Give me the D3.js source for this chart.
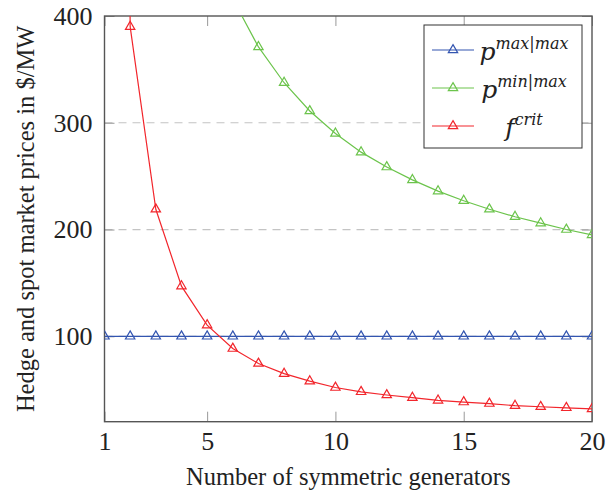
<!DOCTYPE html>
<html><head><meta charset="utf-8">
<script src="https://cdn.jsdelivr.net/npm/d3@7"></script>
<style>
body{margin:0;background:#fff;}
text{font-family:"Liberation Serif","Times New Roman",serif;fill:#222;}
</style></head>
<body><svg id="c" width="608" height="493"></svg>
<script>
const generators = [1,2,3,4,5,6,7,8,9,10,11,12,13,14,15,16,17,18,19,20];
const pMaxMax = [100,100,100,100,100,100,100,100,100,100,100,100,100,100,100,100,100,100,100,100];
const pMinMaxX = [6,7,8,9,10,11,12,13,14,15,16,17,18,19,20];
const pMinMax = [416,371,337.5,311,290,272.5,258.5,246.5,236,227,219,212,206,200,195];
const fCrit = [4000,390,219,147,110.5,88.5,74.5,65,58,52,48,45,42.5,40,38.4,37,35,34,33,32];
const xTicks = [1,5,10,15,20];
const yTicks = [100,200,300,400];

const svg = d3.select("#c");
const L=104.5, R=592, T=16, B=421.7;
const x = d3.scaleLinear().domain([1,20]).range([L,R]);
const y = d3.scaleLinear().domain([20,400]).range([B,T]);

svg.append("defs").append("clipPath").attr("id","clip")
  .append("rect").attr("x",L).attr("y",T).attr("width",R-L).attr("height",B-T);

// grid
const g = svg.append("g");
g.selectAll(".grid").data(yTicks.filter(d=>d<400)).enter().append("line")
  .attr("x1",L).attr("x2",R).attr("y1",d=>y(d)).attr("y2",d=>y(d))
  .attr("stroke","#c4c4c4").attr("stroke-width",1.2).attr("stroke-dasharray","8,6");

// axes (inward ticks)
const axB = d3.axisBottom(x).tickValues(xTicks).tickSize(-10).tickPadding(10);
const axT = d3.axisTop(x).tickValues(xTicks).tickSize(-10).tickFormat("");
const axL = d3.axisLeft(y).tickValues(yTicks).tickSize(-10).tickPadding(12);
const axR = d3.axisRight(y).tickValues(yTicks).tickSize(-10).tickFormat("");
function style(sel){
  sel.attr("font-family",null);
  sel.select(".domain").remove();
  sel.selectAll(".tick line").attr("stroke","#999").attr("stroke-width",1);
  sel.selectAll(".tick text").attr("font-size",26).attr("fill","#222")
     .style("font-family","'Liberation Serif',serif");
}
svg.append("g").attr("transform",`translate(0,${B})`).call(axB).call(style);
svg.append("g").attr("transform",`translate(0,${T})`).call(axT).call(style);
svg.append("g").attr("transform",`translate(${L},0)`).call(axL).call(style);
svg.append("g").attr("transform",`translate(${R},0)`).call(axR).call(style);

// frame
svg.append("rect").attr("x",L).attr("y",T).attr("width",R-L).attr("height",B-T)
  .attr("fill","none").attr("stroke","#555").attr("stroke-width",1.4);

const series = [
  {xs:generators, ys:pMaxMax, color:"#3355b0"},
  {xs:pMinMaxX, ys:pMinMax, color:"#6cc44c"},
  {xs:generators, ys:fCrit, color:"#f2262c"}
];
const line = d3.line().x(d=>x(d[0])).y(d=>y(d[1]));
const tri = d3.symbol().type(d3.symbolTriangle).size(38);
const plot = svg.append("g").attr("clip-path","url(#clip)");
series.forEach(s=>{
  const pts = s.xs.map((v,i)=>[v,s.ys[i]]);
  plot.append("path").datum(pts).attr("d",line).attr("fill","none")
    .attr("stroke",s.color).attr("stroke-width",1.2);
  plot.selectAll(null).data(pts).enter().append("path")
    .attr("d",tri).attr("transform",d=>`translate(${x(d[0])},${y(d[1])})`)
    .attr("fill","none").attr("stroke",s.color).attr("stroke-width",1.2);
});

// axis labels
svg.append("text").attr("x",(L+R)/2).attr("y",485).attr("text-anchor","middle")
  .attr("font-size",24.5).text("Number of symmetric generators");
svg.append("text").attr("transform",`translate(34,${(T+B)/2}) rotate(-90)`)
  .attr("text-anchor","middle").attr("font-size",24.5)
  .text("Hedge and spot market prices in $/MW");

// legend
const leg = svg.append("g");
leg.append("rect").attr("x",424).attr("y",25).attr("width",158).attr("height",123)
  .attr("fill","#fff").attr("stroke","#333").attr("stroke-width",1);
const legItems = [
  {base:"p", sup:"max|max", color:"#3355b0", yy:50},
  {base:"p", sup:"min|max", color:"#6cc44c", yy:88},
  {base:"f", sup:"crit", color:"#f2262c", yy:126}
];
legItems.forEach(it=>{
  leg.append("line").attr("x1",432).attr("x2",474).attr("y1",it.yy).attr("y2",it.yy)
    .attr("stroke",it.color).attr("stroke-width",1.2);
  leg.append("path").attr("d",tri).attr("transform",`translate(453,${it.yy})`)
    .attr("fill","none").attr("stroke",it.color).attr("stroke-width",1.2);
  const t = leg.append("text").attr("x",524).attr("y",it.yy+10).attr("text-anchor","middle")
    .attr("font-style","italic").style("font-family","'DejaVu Serif',serif");
  t.append("tspan").attr("font-size",25).text(it.base);
  t.append("tspan").attr("font-size",16).attr("dy",-11).text(it.sup);
});
</script></body></html>
